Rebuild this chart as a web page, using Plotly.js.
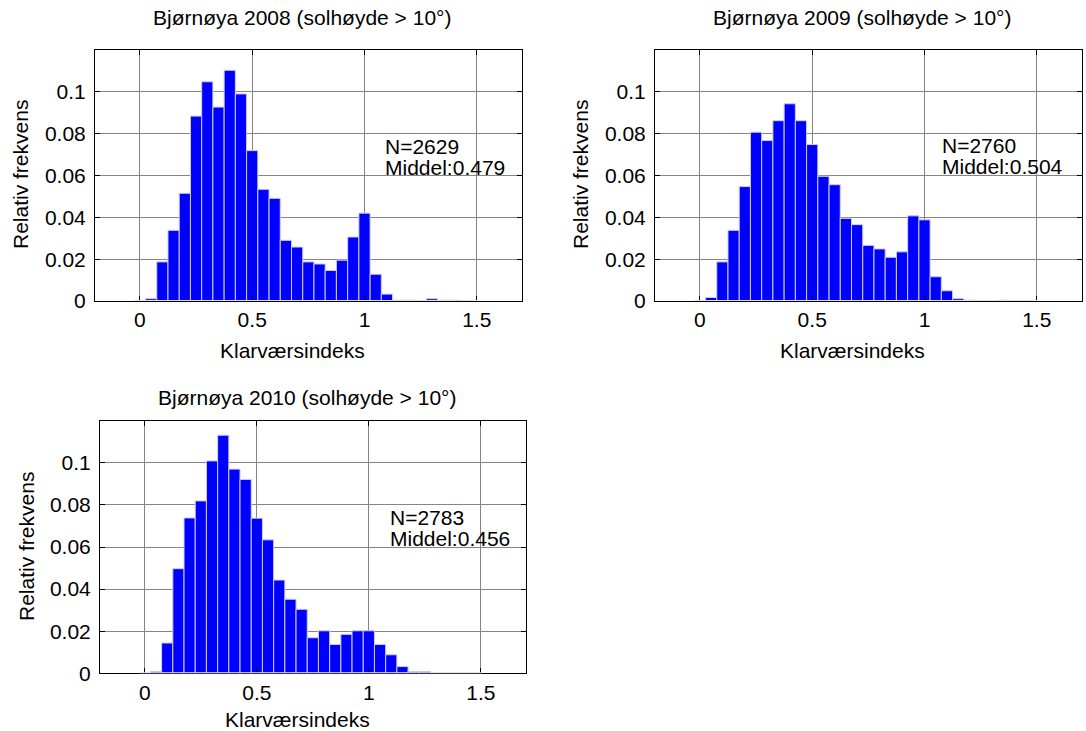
<!DOCTYPE html>
<html>
<head>
<meta charset="utf-8">
<script src="https://cdn.plot.ly/plotly-3.0.1.min.js"></script>
<style>
  html, body { margin: 0; padding: 0; background: #ffffff; }
  #chart { width: 1086px; height: 731px; }
</style>
</head>
<body>
<div id="chart"></div>
<script>
// Histogram bin centres (bin width 0.05)
const binCenters = [0.05, 0.10, 0.15, 0.20, 0.25, 0.30, 0.35, 0.40, 0.45, 0.50,
                    0.55, 0.60, 0.65, 0.70, 0.75, 0.80, 0.85, 0.90, 0.95, 1.00,
                    1.05, 1.10, 1.15, 1.20, 1.25, 1.30, 1.35, 1.40, 1.45];

// Relative frequency per bin, Bjørnøya, solar elevation > 10°
const freq2008 = [0.0011, 0.0187, 0.0338, 0.0515, 0.0884, 0.1048, 0.0927, 0.1103, 0.0990, 0.0719,
                  0.0534, 0.0491, 0.0290, 0.0258, 0.0187, 0.0177, 0.0146, 0.0195, 0.0306, 0.0420,
                  0.0128, 0.0033, 0.0004, 0.0004, 0.0000, 0.0011, 0.0004, 0.0004, 0.0000];
const freq2009 = [0.0017, 0.0187, 0.0338, 0.0547, 0.0807, 0.0767, 0.0862, 0.0943, 0.0862, 0.0748,
                  0.0596, 0.0556, 0.0395, 0.0365, 0.0266, 0.0249, 0.0209, 0.0235, 0.0407, 0.0388,
                  0.0116, 0.0049, 0.0011, 0.0004, 0.0000, 0.0000, 0.0004, 0.0000, 0.0000];
const freq2010 = [0.0008, 0.0144, 0.0497, 0.0738, 0.0819, 0.1009, 0.1131, 0.0970, 0.0921, 0.0737,
                  0.0634, 0.0443, 0.0352, 0.0304, 0.0169, 0.0202, 0.0137, 0.0185, 0.0202, 0.0202,
                  0.0137, 0.0088, 0.0032, 0.0008, 0.0008, 0.0000, 0.0000, 0.0000, 0.0000];

const years = ['2008', '2009', '2010'];
const sampleSizes = [2629, 2760, 2783];
const means = ['0.479', '0.504', '0.456'];

const xTickVals = [0, 0.5, 1, 1.5];
const xTickText = ['0', '0.5', '1', '1.5'];
const yTickVals = [0, 0.02, 0.04, 0.06, 0.08, 0.1];
const yTickText = ['0', '0.02', '0.04', '0.06', '0.08', '0.1'];

const series = [freq2008, freq2009, freq2010];
const FONT = 'Liberation Sans, Arial, Helvetica, sans-serif';
const TXT = 21;

const traces = series.map((f, i) => ({
  type: 'bar',
  x: binCenters,
  y: f,
  width: 0.05,
  xaxis: i === 0 ? 'x' : 'x' + (i + 1),
  yaxis: i === 0 ? 'y' : 'y' + (i + 1),
  marker: { color: '#0000ff', line: { color: 'rgb(205,205,255)', width: 1 } },
  hoverinfo: 'x+y',
  showlegend: false
}));

function xAxis(domain, anchor) {
  return {
    domain: domain, anchor: anchor, range: [-0.2, 1.7],
    tickmode: 'array', tickvals: xTickVals, ticktext: xTickText,
    ticks: 'inside', ticklen: 5, tickcolor: '#000', tickwidth: 1,
    showline: true, linecolor: '#000', linewidth: 1, mirror: 'ticks',
    showgrid: true, gridcolor: '#858585', gridwidth: 1,
    zeroline: false, fixedrange: true, automargin: false,
    tickfont: { family: FONT, size: TXT, color: '#000' }
  };
}
function yAxis(domain, anchor) {
  return {
    domain: domain, anchor: anchor, range: [0, 0.12],
    tickmode: 'array', tickvals: yTickVals, ticktext: yTickText,
    ticks: 'inside', ticklen: 5, tickcolor: '#000', tickwidth: 1,
    showline: true, linecolor: '#000', linewidth: 1, mirror: 'ticks',
    showgrid: true, gridcolor: '#858585', gridwidth: 1,
    zeroline: false, fixedrange: true, automargin: false, ticklabelstandoff: 4,
    tickfont: { family: FONT, size: TXT, color: '#000' }
  };
}

// Paper-space placement of the three panels
const W = 1086, H = 731;
const px = v => v / W;
const py = v => 1 - v / H;

const panels = [
  { xd: [px(95), px(521.7)], yd: [py(301), py(50)] },
  { xd: [px(655), px(1081.7)], yd: [py(301), py(50)] },
  { xd: [px(100), px(525.7)], yd: [py(673.3), py(420.7)] }
];

const layout = {
  width: W, height: H,
  margin: { l: 0, r: 0, t: 0, b: 0 },
  paper_bgcolor: '#ffffff', plot_bgcolor: '#ffffff',
  showlegend: false,
  bargap: 0,
  font: { family: FONT, size: TXT, color: '#000' },
  xaxis: xAxis(panels[0].xd, 'y'),
  yaxis: yAxis(panels[0].yd, 'x'),
  xaxis2: xAxis(panels[1].xd, 'y2'),
  yaxis2: yAxis(panels[1].yd, 'x2'),
  xaxis3: xAxis(panels[2].xd, 'y3'),
  yaxis3: yAxis(panels[2].yd, 'x3'),
  shapes: [],
  annotations: []
};

// Light bar baseline over the bottom axis line across the binned range
['', '2', '3'].forEach(s => {
  layout.shapes.push({
    type: 'line', layer: 'above', xref: 'x' + s, yref: 'y' + s,
    x0: -0.025, x1: 1.505, y0: 0, y1: 0,
    line: { color: 'rgb(222,222,236)', width: 2 }
  });
});

// Panel titles and axis titles
const titlePos = [[302, 18], [862, 18], [307, 397]];
const xTitlePos = [[292, 351], [852, 351], [297, 719]];
const yTitlePos = [[21, 175], [581, 175], [26, 547]];
years.forEach((yr, i) => {
  layout.annotations.push({
    xref: 'paper', yref: 'paper', x: px(titlePos[i][0]), y: py(titlePos[i][1]),
    xanchor: 'center', yanchor: 'middle', showarrow: false,
    text: 'Bjørnøya ' + yr + ' (solhøyde > 10°)',
    font: { family: FONT, size: TXT, color: '#000' }
  });
  layout.annotations.push({
    xref: 'paper', yref: 'paper', x: px(xTitlePos[i][0]), y: py(xTitlePos[i][1]),
    xanchor: 'center', yanchor: 'middle', showarrow: false,
    text: 'Klarværsindeks',
    font: { family: FONT, size: TXT, color: '#000' }
  });
  layout.annotations.push({
    xref: 'paper', yref: 'paper', x: px(yTitlePos[i][0]), y: py(yTitlePos[i][1]),
    xanchor: 'center', yanchor: 'middle', showarrow: false, textangle: -90,
    text: 'Relativ frekvens',
    font: { family: FONT, size: TXT, color: '#000' }
  });
});

// Sample size and mean labels inside each panel
const statPos = [
  { x: 1.086, yN: 0.0737, yM: 0.0637 },
  { x: 1.072, yN: 0.0742, yM: 0.0642 },
  { x: 1.090, yN: 0.0740, yM: 0.0640 }
];
['', '2', '3'].forEach((s, i) => {
  layout.annotations.push({
    xref: 'x' + s, yref: 'y' + s, x: statPos[i].x, y: statPos[i].yN,
    xanchor: 'left', yanchor: 'middle', showarrow: false, borderpad: 0,
    text: 'N=' + sampleSizes[i],
    font: { family: FONT, size: TXT, color: '#000' }
  });
  layout.annotations.push({
    xref: 'x' + s, yref: 'y' + s, x: statPos[i].x, y: statPos[i].yM,
    xanchor: 'left', yanchor: 'middle', showarrow: false, borderpad: 0,
    text: 'Middel:' + means[i],
    font: { family: FONT, size: TXT, color: '#000' }
  });
});

Plotly.newPlot('chart', traces, layout, { displayModeBar: false, staticPlot: true });
</script>
</body>
</html>
